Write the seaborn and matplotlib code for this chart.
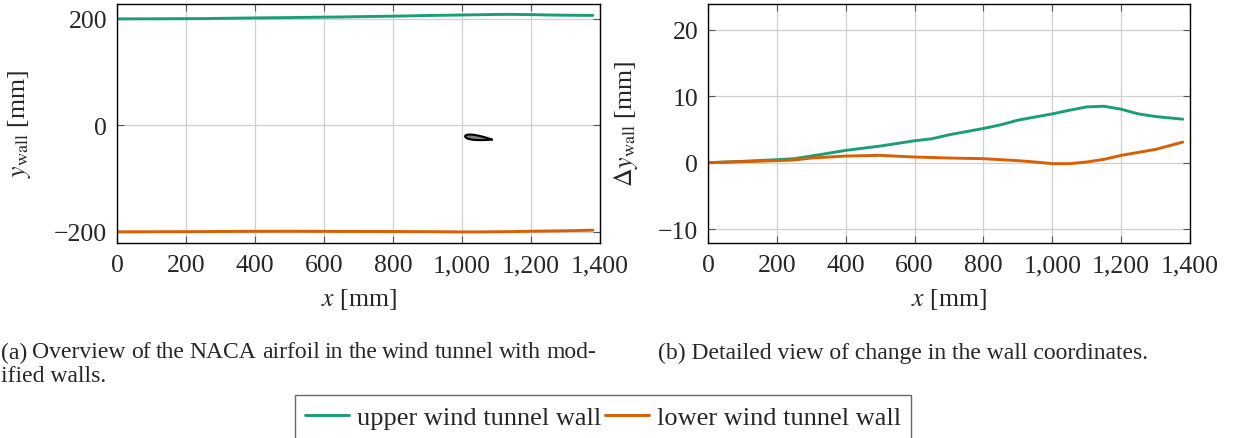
import numpy as np
import pandas as pd
import matplotlib
matplotlib.use("Agg")
import matplotlib.pyplot as plt
from matplotlib.ticker import FuncFormatter
import seaborn as sns

# Wall displacement relative to the straight tunnel walls [mm]
x_upper = [0, 100, 200, 250, 300, 400, 500, 600, 650, 700, 800, 850, 900,
           1000, 1050, 1100, 1150, 1200, 1250, 1300, 1379]
dy_upper = [0.0, 0.2, 0.45, 0.6, 1.0, 1.85, 2.5, 3.3, 3.6, 4.2, 5.15, 5.7, 6.4,
            7.35, 7.9, 8.4, 8.5, 8.05, 7.35, 6.95, 6.55]
x_lower = [0, 100, 200, 250, 300, 400, 500, 600, 700, 800, 900, 950, 1000,
           1050, 1100, 1150, 1200, 1300, 1379]
dy_lower = [0.0, 0.15, 0.3, 0.4, 0.7, 1.0, 1.1, 0.85, 0.7, 0.6, 0.3, 0.1, -0.15,
            -0.15, 0.1, 0.5, 1.1, 2.0, 3.1]
wall_half_height = 200.0  # nominal wall position [mm]

# NACA 0012 half-thickness table (x/c and y_t/c in percent of chord)
naca_xc = [0, 0.5, 1.25, 2.5, 5.0, 7.5, 10, 15, 20, 25, 30, 40, 50, 60, 70, 80, 90, 95, 100]
naca_yt = [0, 1.0, 1.894, 2.615, 3.555, 4.200, 4.683, 5.345, 5.737, 5.941, 6.002,
           5.803, 5.294, 4.563, 3.664, 2.623, 1.448, 0.807, 0.126]
airfoil_le = (1009.0, -20.5)   # leading edge position [mm]
airfoil_chord = 78.0           # [mm]
airfoil_aoa = 4.5              # angle of attack [deg]

series = ["upper wind tunnel wall", "lower wind tunnel wall"]
colors = ["#1b9e77", "#d95f02"]

caption_a = "(a) Overview of the NACA airfoil in the wind tunnel with mod-"
caption_a2 = "ified walls."
caption_b = "(b) Detailed view of change in the wall coordinates."

sns.set_theme(style="white")
plt.rcParams["font.family"] = ["Liberation Serif", "DejaVu Serif"]
plt.rcParams["mathtext.fontset"] = "stix"
plt.rcParams["axes.unicode_minus"] = True

df = pd.concat([
    pd.DataFrame({"x": x_upper, "dy": dy_upper, "wall": series[0], "base": wall_half_height}),
    pd.DataFrame({"x": x_lower, "dy": dy_lower, "wall": series[1], "base": -wall_half_height}),
], ignore_index=True)
df["y"] = df["base"] + df["dy"]

W, H = 1237, 439
fig = plt.figure(figsize=(W / 100, H / 100), dpi=100)
ax1 = fig.add_axes([117 / W, 1 - 244 / H, (600 - 117) / W, (244 - 5) / H])
ax2 = fig.add_axes([708 / W, 1 - 244 / H, (1190 - 708) / W, (244 - 5) / H])

pal = dict(zip(series, colors))
lw = 2.1
sns.lineplot(data=df, x="x", y="y", hue="wall", palette=pal, ax=ax1,
             linewidth=lw, legend=False, sort=False, estimator=None)
sns.lineplot(data=df, x="x", y="dy", hue="wall", palette=pal, ax=ax2,
             linewidth=lw, legend=False, sort=False, estimator=None)

# Airfoil outline, rotated by the angle of attack about the leading edge
xc = np.array(naca_xc) / 100.0
yt = np.array(naca_yt) / 100.0
px = np.concatenate([xc[::-1], xc[1:]])
py = np.concatenate([yt[::-1], -yt[1:]])
a = np.deg2rad(airfoil_aoa)
foil_x = airfoil_le[0] + airfoil_chord * (px * np.cos(a) + py * np.sin(a))
foil_y = airfoil_le[1] + airfoil_chord * (-px * np.sin(a) + py * np.cos(a))
ax1.fill(foil_x, foil_y, facecolor="#808080", edgecolor="black", linewidth=1.5, zorder=3)

def thousands(v, pos):
    s = f"{abs(v):,.0f}"
    return ("\u2212" + s) if v < 0 else s

tick_fs = 18.5
for ax in (ax1, ax2):
    ax.set_xlim(0, 1400)
    ax.set_xticks(range(0, 1401, 200))
    ax.xaxis.set_major_formatter(FuncFormatter(thousands))
    ax.yaxis.set_major_formatter(FuncFormatter(thousands))
    ax.grid(True, color="#cfcfcf", linewidth=0.9)
    ax.set_axisbelow(True)
    ax.tick_params(axis="both", direction="in", length=5, width=0.8, color="#555555",
                   labelsize=tick_fs, top=True, right=True, bottom=True, left=True)
    ax.tick_params(axis="x", pad=8)
    ax.tick_params(axis="y", pad=7)
    for sp in ax.spines.values():
        sp.set_color("black")
        sp.set_linewidth(1.0)
    ax.set_xlabel(r"$x$ [mm]", fontsize=tick_fs, labelpad=7)

ax1.set_ylim(-221, 228)
ax1.set_yticks([-200, 0, 200])
ax1.set_ylabel(r"$y_{\mathrm{wall}}$ [mm]", fontsize=tick_fs)
ax1.yaxis.set_label_coords((33 - 117) / 483, 0.5)

ax2.set_ylim(-12.1, 23.9)
ax2.set_yticks([-10, 0, 10, 20])
ax2.set_ylabel(r"$\Delta y_{\mathrm{wall}}$ [mm]", fontsize=tick_fs)
ax2.yaxis.set_label_coords((640 - 708) / 482, 0.5)

# Sub-captions; the first line of (a) is set flush on both sides
cap_fs = 17
renderer = fig.canvas.get_renderer()

def justified_line(text, x0, x1, y, fs):
    words = text.split(" ")
    objs = [fig.text(0, y, w, fontsize=fs, va="center", ha="left") for w in words]
    widths = [o.get_window_extent(renderer).width for o in objs]
    space = fig.text(0, y, "a a", fontsize=fs)
    natural_gap = space.get_window_extent(renderer).width - 2 * fig.text(0, y, "a", fontsize=fs).get_window_extent(renderer).width
    for t in fig.texts[-2:]:
        t.remove()
    gap = max((x1 - x0 - sum(widths)) / (len(words) - 1), 0.7 * natural_gap)
    pos = x0
    for o, w in zip(objs, widths):
        o.set_x(pos / W)
        pos += w + gap

justified_line(caption_a, 1, 596, 1 - 353 / H, cap_fs)
fig.text(1 / W, 1 - 377 / H, caption_a2, fontsize=cap_fs, va="center", ha="left")
fig.text(658 / W, 1 - 353 / H, caption_b, fontsize=cap_fs, va="center", ha="left")

# Shared legend below both panels
handles = [plt.Line2D([], [], color=c, linewidth=lw) for c in colors]
leg = fig.legend(handles, series, loc="upper center", bbox_to_anchor=(603 / W, 1 - 396 / H),
                 ncol=2, frameon=True, fancybox=False, fontsize=19, handlelength=1.65,
                 handletextpad=0.3, columnspacing=0.15, borderpad=0.4, borderaxespad=0)
leg.get_frame().set_edgecolor("#444444")
leg.get_frame().set_linewidth(1.0)

fig.savefig("out.png", dpi=100)
